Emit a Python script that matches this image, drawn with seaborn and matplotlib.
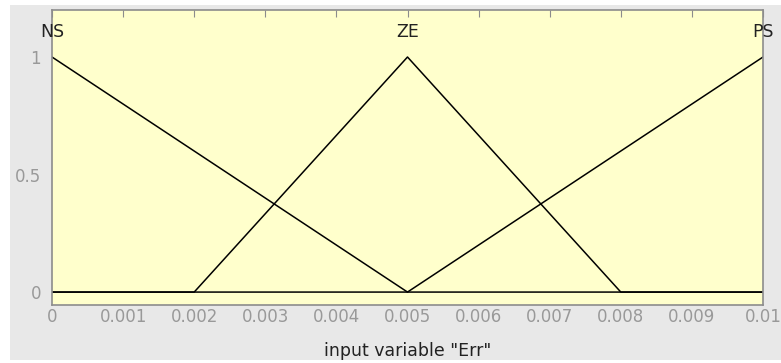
import numpy as np
import pandas as pd
import matplotlib
matplotlib.use('Agg')
import matplotlib.pyplot as plt
import seaborn as sns
from matplotlib.patches import Rectangle

# membership functions of input variable "Err"
mf_nomes = ['NS', 'ZE', 'PS']
ns_x = [0, 0.005, 0.01]
ns_y = [1, 0, 0]
ze_x = [0, 0.002, 0.005, 0.008, 0.01]
ze_y = [0, 0, 1, 0, 0]
ps_x = [0, 0.005, 0.01]
ps_y = [0, 0, 1]
picos = [0, 0.005, 0.01]

x_ticks = [0, 0.001, 0.002, 0.003, 0.004, 0.005, 0.006, 0.007, 0.008, 0.009, 0.01]
x_labels = ['0', '0.001', '0.002', '0.003', '0.004', '0.005', '0.006', '0.007', '0.008', '0.009', '0.01']
y_ticks = [0, 0.5, 1]
y_labels = ['0', '0.5', '1']

df = pd.concat([
    pd.DataFrame({'x': ns_x, 'y': ns_y, 'mf': 'NS'}),
    pd.DataFrame({'x': ze_x, 'y': ze_y, 'mf': 'ZE'}),
    pd.DataFrame({'x': ps_x, 'y': ps_y, 'mf': 'PS'}),
])

sns.set_style('white')
plt.rcParams['font.family'] = ['DejaVu Sans']

fig = plt.figure(figsize=(7.81, 3.63), dpi=100, facecolor='white')
fig.patches.append(Rectangle((10 / 781, 3 / 363), 771 / 781, 355 / 363,
                             transform=fig.transFigure, facecolor='#e8e8e8',
                             edgecolor='none', zorder=-5))
ax = fig.add_axes([52 / 781, 58 / 363, 711 / 781, 295 / 363])
ax.set_zorder(2)
ax.set_facecolor('#ffffcc')

for nome in mf_nomes:
    sub = df[df['mf'] == nome]
    sns.lineplot(data=sub, x='x', y='y', color='black', linewidth=1.1,
                 sort=False, estimator=None, ax=ax, legend=False)

for nome, px in zip(mf_nomes, picos):
    ax.text(px, 1.105, nome, ha='center', va='center', fontsize=12.5, color='#222222')

ax.set_xlim(0, 0.01)
ax.set_ylim(-0.055, 1.2)
ax.set_xticks(x_ticks)
ax.set_xticklabels(x_labels)
ax.set_yticks(y_ticks)
ax.set_yticklabels(y_labels)
ax.tick_params(direction='in', length=5, color='#8c8c8c', labelcolor='#999999',
               labelsize=12, top=True, right=False)
ax.tick_params(axis='x', pad=2)
ax.tick_params(axis='y', pad=8)
for s in ax.spines.values():
    s.set_color('#8c8c8c')
    s.set_linewidth(1.2)
ax.set_xlabel('input variable "Err"', fontsize=12.5, color='#222222', va='center')
ax.xaxis.set_label_coords(0.5, -0.156)
ax.set_ylabel('')

plt.savefig('out.png', dpi=100, facecolor=fig.get_facecolor())
